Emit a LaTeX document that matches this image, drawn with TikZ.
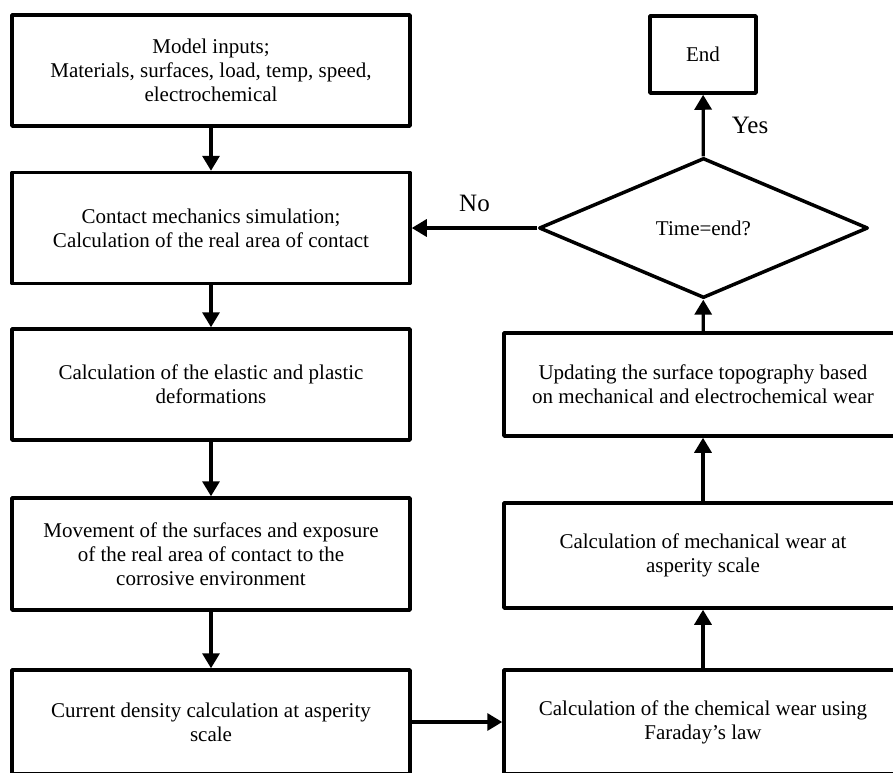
\documentclass[tikz,border=0pt]{standalone}
\usepackage{fontspec}
\setmainfont{Liberation Serif}
\usetikzlibrary{arrows.meta,shapes.geometric}
\begin{document}
\begin{tikzpicture}[x=1pt,y=-1pt,
  box/.style={draw, line width=3.5pt, line join=round, minimum width=398pt, inner sep=0pt,
    align=center, font=\fontsize{21}{24}\selectfont},
  flow/.style={line width=3.3pt, -{Triangle[length=15pt,width=17pt]}},
  lbl/.style={inner sep=0pt, font=\fontsize{25}{28}\selectfont}
]
\useasboundingbox (0,0) rectangle (893,772);
\clip (0,0) rectangle (893,772);
% left column
\node[box, minimum height=111pt] (b1) at (211,70.5) {Model inputs;\\Materials, surfaces, load, temp, speed,\\electrochemical};
\node[box, minimum height=111pt] (b2) at (211,228) {Contact mechanics simulation;\\Calculation of the real area of contact};
\node[box, minimum height=111pt] (b3) at (211,384.5) {Calculation of the elastic and plastic\\deformations};
\node[box, minimum height=112pt] (b4) at (211,554) {Movement of the surfaces and exposure\\of the real area of contact to the\\corrosive environment};
\node[box, minimum height=104pt] (b5) at (211,722) {Current density calculation at asperity\\scale};
% right column
\node[box, minimum height=104pt] (c1) at (703,722) {Calculation of the chemical wear using\\Faraday's law};
\node[box, minimum height=105pt] (c2) at (703,555.5) {Calculation of mechanical wear at\\asperity scale};
\node[box, minimum height=103pt] (c3) at (703,384.5) {Updating the surface topography based\\on mechanical and electrochemical wear};
\node[draw, diamond, line width=3.5pt, line join=round, inner sep=0pt, minimum width=329pt, minimum height=140pt,
  font=\fontsize{21}{24}\selectfont] (d) at (703.5,228) {Time=end?};
\node[draw, line width=3.5pt, line join=round, minimum width=106pt, minimum height=77pt, inner sep=0pt,
  font=\fontsize{21}{24}\selectfont] (e) at (703,54.5) {End};
% connectors
\draw[flow] (b1) -- (b2);
\draw[flow] (b2) -- (b3);
\draw[flow] (b3) -- (b4);
\draw[flow] (b4) -- (b5);
\draw[flow] (b5) -- (c1);
\draw[flow] (c1) -- (c2);
\draw[flow] (c2) -- (c3);
\draw[flow] (c3) -- (d);
\draw[flow] (d) -- node[lbl, midway, right=27pt] (yes) {Yes} (e);
\draw[flow] (d) -- node[lbl, midway, above=15pt] (no) {No} (b2);
\end{tikzpicture}
\end{document}
